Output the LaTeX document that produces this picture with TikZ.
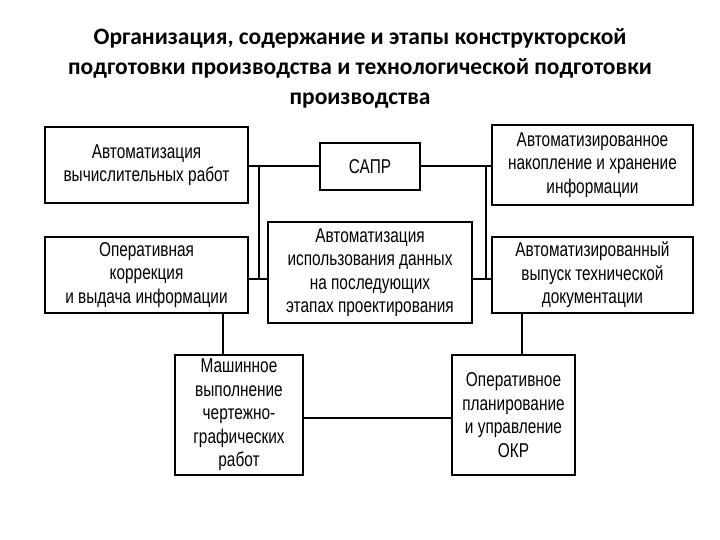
\documentclass[tikz,border=0pt]{standalone}
\usepackage{fontspec}
\setmainfont{Liberation Sans}[FakeStretch=0.77]
\newfontfamily\titlefont{Carlito}
\begin{document}
\begin{tikzpicture}[x=1pt,y=-1pt,
  bx/.style={draw,line width=2.2pt,align=center,font=\fontsize{20}{23.5}\selectfont,inner sep=0pt},
  ln/.style={line width=2pt}]
\useasboundingbox (0,0) rectangle (720,540);
\node[font=\titlefont\bfseries\fontsize{23.5}{30}\selectfont,align=center] (t) at (360,68)
 {Организация, содержание и этапы конструкторской\\подготовки производства и технологической подготовки\\производства};
\node[bx,minimum width=203pt,minimum height=76pt] (a) at (146.5,165) {Автоматизация\\вычислительных работ};
\node[bx,minimum width=100pt,minimum height=47pt] (s) at (370,166.5) {САПР};
\node[bx,minimum width=201pt,minimum height=80pt] (b) at (592.5,165) {Автоматизированное\\накопление и хранение\\информации};
\node[bx,minimum width=203pt,minimum height=76pt] (c) at (146.5,275) {Оперативная\\коррекция\\и выдача информации};
\node[bx,minimum width=204pt,minimum height=101pt] (d) at (370,272.5) {Автоматизация\\использования данных\\на последующих\\этапах проектирования};
\node[bx,minimum width=201pt,minimum height=76pt] (e) at (592.5,275) {Автоматизированный\\выпуск технической\\документации};
\node[bx,minimum width=128pt,minimum height=120pt] (f) at (239,415) {Машинное\\выполнение\\чертежно-\\графических\\работ};
\node[bx,minimum width=123pt,minimum height=120pt] (g) at (513.5,415) {Оперативное\\планирование\\и управление\\ОКР};
\coordinate (lt) at (259,166); \coordinate (lb) at (259,279);
\coordinate (rt) at (486,166); \coordinate (rb) at (486,279);
\draw[ln] (a.east|-s.west) -- (s.west);
\draw[ln] (s.east) -- (b.west|-s.east);
\draw[ln] (lt) -- (lb);
\draw[ln] (rt) -- (rb);
\draw[ln] (c.east|-lb) -- (d.west|-lb);
\draw[ln] (d.east|-rb) -- (e.west|-rb);
\draw[ln] (c.south-|223,0) -- (f.north-|223,0);
\draw[ln] (e.south-|522,0) -- (g.north-|522,0);
\draw[ln] (f.east|-0,418) -- (g.west|-0,418);
\end{tikzpicture}
\end{document}
